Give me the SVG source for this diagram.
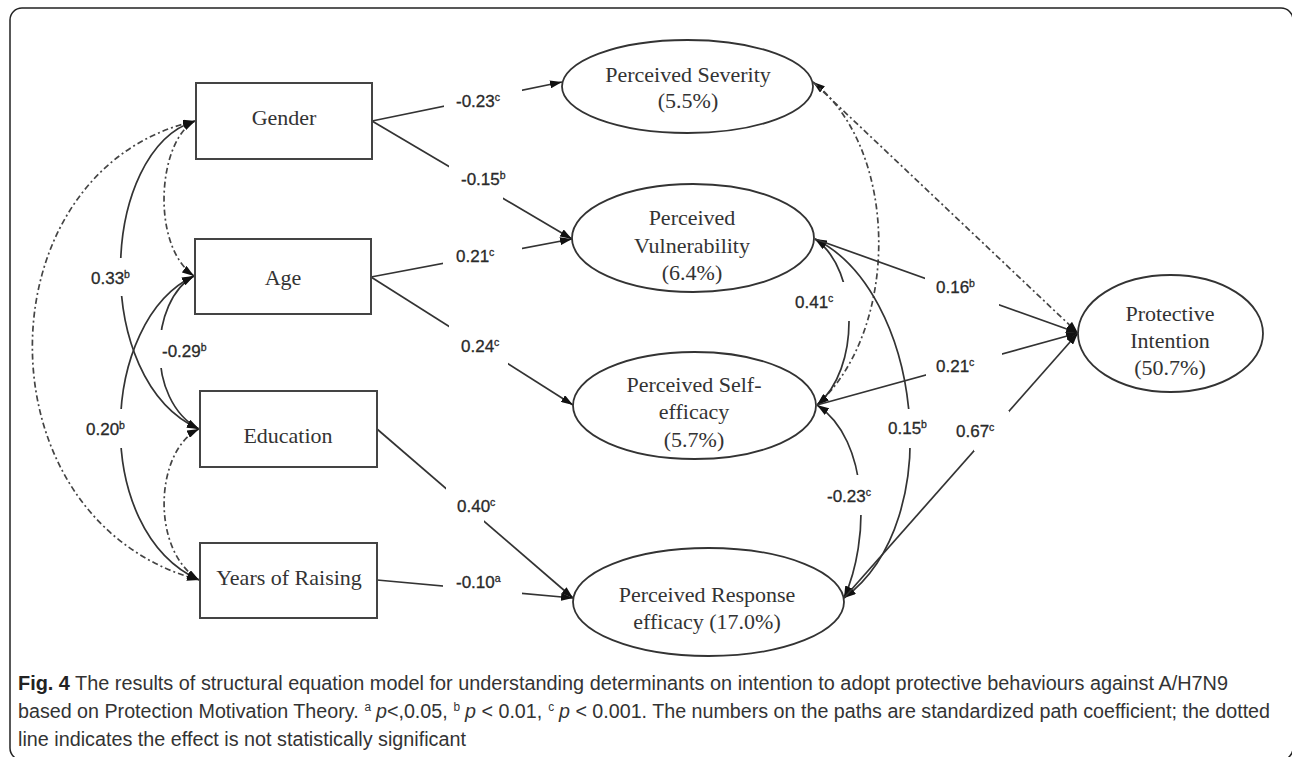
<svg xmlns="http://www.w3.org/2000/svg" width="1292" height="757" viewBox="0 0 1292 757">
<style>
.box{fill:#fff;stroke:#444;stroke-width:2}
.ell{fill:#fff;stroke:#333;stroke-width:1.8}
.nt{font-family:"Liberation Serif","Times New Roman",serif;font-size:22px;fill:#333;text-anchor:middle}
.lb{font-family:"Liberation Sans",Arial,sans-serif;font-size:17px;fill:#2a2a2a;stroke:#2a2a2a;stroke-width:0.3}
.sup{font-size:10.5px}
.ln{fill:none;stroke:#333;stroke-width:1.7}
.dd{fill:none;stroke:#444;stroke-width:1.7;stroke-dasharray:6 3 2 3}
.cap{font-family:"Liberation Sans",Arial,sans-serif;font-size:20px;fill:#333}
.cs{font-size:12px;baseline-shift:super}
</style>
<defs>
<marker id="ah" viewBox="0 0 12 8" refX="12" refY="4" markerWidth="12" markerHeight="8" markerUnits="userSpaceOnUse" orient="auto-start-reverse">
<path d="M0,0 L12,4 L0,8 z" fill="#111"/>
</marker>
<mask id="gaps" maskUnits="userSpaceOnUse" x="0" y="0" width="1292" height="757">
<rect x="0" y="0" width="1292" height="757" fill="#fff"/>
<rect x="444" y="86" width="78" height="24" fill="#000"/>
<rect x="449" y="160" width="54" height="43" fill="#000"/>
<rect x="443" y="244" width="79" height="24" fill="#000"/>
<rect x="449" y="320" width="59" height="48" fill="#000"/>
<rect x="446" y="484" width="38" height="41" fill="#000"/>
<rect x="443" y="578" width="79" height="22" fill="#000"/>
<rect x="85" y="258" width="50" height="38" fill="#000"/>
<rect x="150" y="330" width="70" height="38" fill="#000"/>
<rect x="80" y="409" width="60" height="39" fill="#000"/>
<rect x="925" y="270" width="74" height="42" fill="#000"/>
<rect x="790" y="282" width="65" height="39" fill="#000"/>
<rect x="926" y="350" width="76" height="30" fill="#000"/>
<rect x="885" y="409" width="45" height="39" fill="#000"/>
<rect x="974" y="411" width="35" height="40" fill="#000"/>
<rect x="822" y="475" width="58" height="40" fill="#000"/>
</mask>
</defs>
<rect x="10" y="8" width="1283" height="752" rx="12" fill="#fff" stroke="#222" stroke-width="1.5"/>

<g id="connectors" mask="url(#gaps)">
<path class="dd" d="M195,121 C158,140 150,245 194,276" marker-start="url(#ah)" marker-end="url(#ah)"/>
<path class="ln" d="M195,121 C100,150 90,380 199,429" marker-start="url(#ah)" marker-end="url(#ah)"/>
<path class="dd" d="M195,121 C-20,170 -25,520 199,580" marker-start="url(#ah)" marker-end="url(#ah)"/>
<path class="ln" d="M194,276 C150,300 145,400 199,429" marker-start="url(#ah)" marker-end="url(#ah)"/>
<path class="ln" d="M194,276 C100,320 90,530 199,580" marker-start="url(#ah)" marker-end="url(#ah)"/>
<path class="dd" d="M199,429 C155,450 150,550 199,580" marker-start="url(#ah)" marker-end="url(#ah)"/>
<path class="ln" d="M372,121 L562,82" marker-end="url(#ah)"/>
<path class="ln" d="M372,121 L572,239" marker-end="url(#ah)"/>
<path class="ln" d="M371,277 L572,239" marker-end="url(#ah)"/>
<path class="ln" d="M371,277 L573,405" marker-end="url(#ah)"/>
<path class="ln" d="M377,429 L573,598" marker-end="url(#ah)"/>
<path class="ln" d="M377,580 L573,598" marker-end="url(#ah)"/>
<path class="dd" d="M813,82 C900,150 900,330 817,405" marker-start="url(#ah)" marker-end="url(#ah)"/>
<path class="ln" d="M815,239 C860,270 860,370 817,405" marker-start="url(#ah)" marker-end="url(#ah)"/>
<path class="ln" d="M815,239 C920,290 950,520 844,598" marker-start="url(#ah)" marker-end="url(#ah)"/>
<path class="ln" d="M817,405 C870,440 870,540 844,598" marker-start="url(#ah)" marker-end="url(#ah)"/>
<path class="dd" d="M813,82 L1078,333" marker-end="url(#ah)"/>
<path class="ln" d="M815,239 L1078,333" marker-end="url(#ah)"/>
<path class="ln" d="M817,405 L1078,333" marker-end="url(#ah)"/>
<path class="ln" d="M844,598 L1078,333" marker-end="url(#ah)"/>
</g>

<g id="gender"><rect class="box" x="196" y="83" width="176" height="76"/><text class="nt" x="284" y="125">Gender</text></g>
<g id="age"><rect class="box" x="195" y="239" width="176" height="75"/><text class="nt" x="283" y="285">Age</text></g>
<g id="education"><rect class="box" x="200" y="391" width="177" height="76"/><text class="nt" x="288" y="443">Education</text></g>
<g id="years"><rect class="box" x="200" y="543" width="177" height="75"/><text class="nt" x="289" y="585">Years of Raising</text></g>

<g id="severity"><ellipse class="ell" cx="687.5" cy="86.5" rx="125.5" ry="46.5"/><text class="nt" x="688" y="82">Perceived Severity</text><text class="nt" x="688" y="108">(5.5%)</text></g>
<g id="vulnerability"><ellipse class="ell" cx="693" cy="238" rx="121" ry="54"/><text class="nt" x="692" y="225">Perceived</text><text class="nt" x="692" y="253">Vulnerability</text><text class="nt" x="692" y="280">(6.4%)</text></g>
<g id="selfefficacy"><ellipse class="ell" cx="694.5" cy="405.5" rx="121.5" ry="53.5"/><text class="nt" x="694" y="392">Perceived Self-</text><text class="nt" x="694" y="419">efficacy</text><text class="nt" x="694" y="447">(5.7%)</text></g>
<g id="response"><ellipse class="ell" cx="708.5" cy="602" rx="135.5" ry="54"/><text class="nt" x="707" y="602">Perceived Response</text><text class="nt" x="707" y="629">efficacy (17.0%)</text></g>
<g id="intention"><ellipse class="ell" cx="1170.5" cy="333.5" rx="92.5" ry="58.5"/><text class="nt" x="1170" y="321">Protective</text><text class="nt" x="1170" y="348">Intention</text><text class="nt" x="1170" y="375">(50.7%)</text></g>

<g id="labels">
<text class="lb" x="456" y="107">-0.23<tspan class="sup" dy="-6">c</tspan></text>
<text class="lb" x="461" y="185">-0.15<tspan class="sup" dy="-6">b</tspan></text>
<text class="lb" x="456" y="262">0.21<tspan class="sup" dy="-6">c</tspan></text>
<text class="lb" x="461" y="352">0.24<tspan class="sup" dy="-6">c</tspan></text>
<text class="lb" x="457" y="512">0.40<tspan class="sup" dy="-6">c</tspan></text>
<text class="lb" x="456" y="588">-0.10<tspan class="sup" dy="-6">a</tspan></text>
<text class="lb" x="91" y="284">0.33<tspan class="sup" dy="-6">b</tspan></text>
<text class="lb" x="162" y="357">-0.29<tspan class="sup" dy="-6">b</tspan></text>
<text class="lb" x="86" y="435">0.20<tspan class="sup" dy="-6">b</tspan></text>
<text class="lb" x="936" y="293">0.16<tspan class="sup" dy="-6">b</tspan></text>
<text class="lb" x="795" y="308">0.41<tspan class="sup" dy="-6">c</tspan></text>
<text class="lb" x="936" y="372">0.21<tspan class="sup" dy="-6">c</tspan></text>
<text class="lb" x="888" y="434">0.15<tspan class="sup" dy="-6">b</tspan></text>
<text class="lb" x="956" y="437">0.67<tspan class="sup" dy="-6">c</tspan></text>
<text class="lb" x="827" y="502">-0.23<tspan class="sup" dy="-6">c</tspan></text>
</g>

<g id="caption">
<text class="cap" x="18" y="690" textLength="1210" lengthAdjust="spacingAndGlyphs"><tspan font-weight="bold" fill="#222">Fig. 4</tspan> The results of structural equation model for understanding determinants on intention to adopt protective behaviours against A/H7N9</text>
<text class="cap" x="18" y="718" textLength="1252" lengthAdjust="spacingAndGlyphs">based on Protection Motivation Theory.<tspan class="cs" dx="6">a</tspan><tspan dx="5" font-style="italic">p</tspan>&lt;,0.05,<tspan class="cs" dx="6">b</tspan><tspan dx="5" font-style="italic">p</tspan> &lt; 0.01,<tspan class="cs" dx="6">c</tspan><tspan dx="5" font-style="italic">p</tspan> &lt; 0.001. The numbers on the paths are standardized path coefficient; the dotted</text>
<text class="cap" x="18" y="746" textLength="448" lengthAdjust="spacingAndGlyphs">line indicates the effect is not statistically significant</text>
</g>
</svg>
